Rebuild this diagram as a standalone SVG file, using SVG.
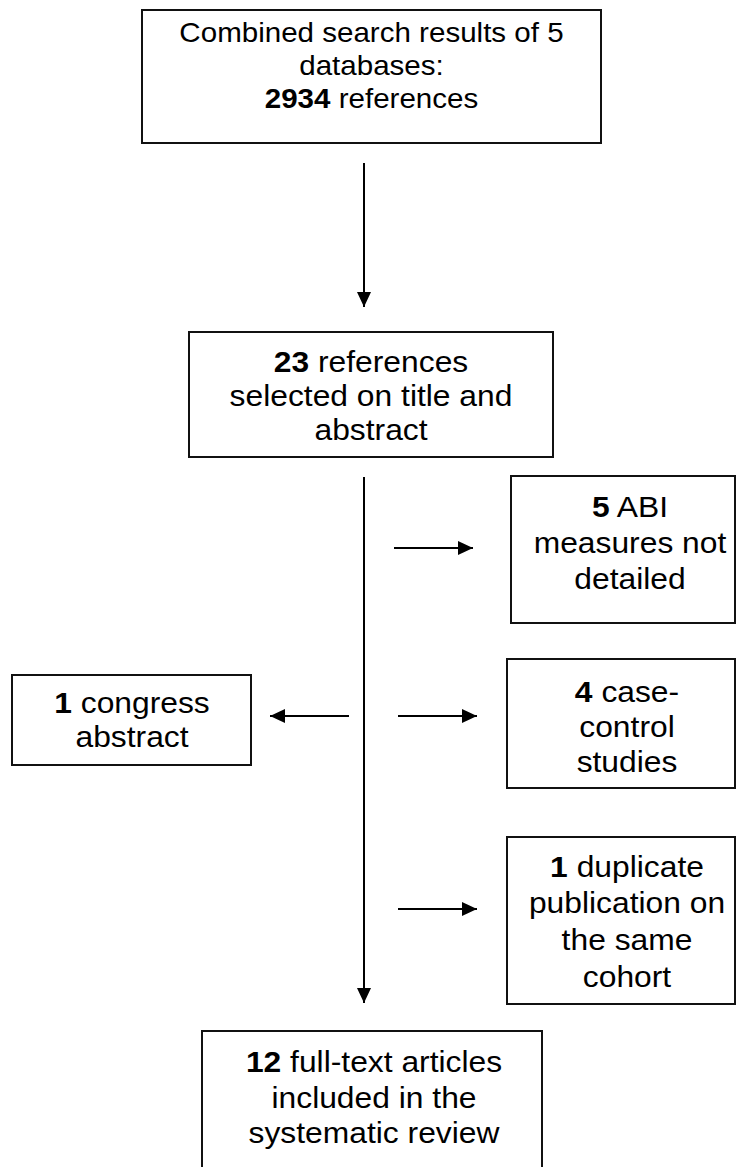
<svg xmlns="http://www.w3.org/2000/svg" width="738" height="1167" viewBox="0 0 738 1167">
<style>
  .box { fill: #fff; stroke: #111; stroke-width: 2; }
  .t { font-family: "Liberation Sans", Arial, sans-serif; font-size: 30px; fill: #000; text-anchor: middle; }
  .tt { font-size: 27.5px; }
  .b { font-weight: bold; }
  .arr { stroke: #000; stroke-width: 2; fill: none; marker-end: url(#ah); }
</style>
<defs>
  <marker id="ah" viewBox="0 0 15 14" markerWidth="15" markerHeight="14" refX="15" refY="7" orient="auto" markerUnits="userSpaceOnUse">
    <path d="M0,0 L15,7 L0,14 z" fill="#000"/>
  </marker>
</defs>
<rect width="738" height="1167" fill="#fff"/>

<g id="connectors">
  <line class="arr" x1="364" y1="163" x2="364" y2="307"/>
  <line class="arr" x1="364" y1="477" x2="364" y2="1003"/>
  <line class="arr" x1="394" y1="548" x2="473" y2="548"/>
  <line class="arr" x1="349" y1="716" x2="270" y2="716"/>
  <line class="arr" x1="398" y1="716" x2="477" y2="716"/>
  <line class="arr" x1="398" y1="909" x2="477" y2="909"/>
</g>

<g id="n-search">
  <rect class="box" x="142" y="10" width="459" height="133"/>
  <text class="t tt" transform="translate(371.5,42) scale(1.075,1)">Combined search results of 5</text>
  <text class="t tt" transform="translate(371.5,75) scale(1.075,1)">databases:</text>
  <text class="t tt" transform="translate(371.5,108) scale(1.075,1)"><tspan class="b">2934</tspan> references</text>
</g>

<g id="n-selected">
  <rect class="box" x="189" y="332" width="364" height="125"/>
  <text class="t" transform="translate(371,372) scale(1.06,1)"><tspan class="b">23</tspan> references</text>
  <text class="t" transform="translate(371,406) scale(1.06,1)">selected on title and</text>
  <text class="t" transform="translate(371,440) scale(1.06,1)">abstract</text>
</g>

<g id="n-abi">
  <rect class="box" x="511" y="476" width="224" height="147"/>
  <text class="t" transform="translate(630,517) scale(1.06,1)"><tspan class="b">5</tspan> ABI</text>
  <text class="t" transform="translate(630,553) scale(1.06,1)">measures not</text>
  <text class="t" transform="translate(630,589) scale(1.06,1)">detailed</text>
</g>

<g id="n-congress">
  <rect class="box" x="12" y="675" width="239" height="90"/>
  <text class="t" transform="translate(132,713) scale(1.06,1)"><tspan class="b">1</tspan> congress</text>
  <text class="t" transform="translate(132,747) scale(1.06,1)">abstract</text>
</g>

<g id="n-casecontrol">
  <rect class="box" x="507" y="659" width="228" height="129"/>
  <text class="t" transform="translate(627,702) scale(1.06,1)"><tspan class="b">4</tspan> case-</text>
  <text class="t" transform="translate(627,737) scale(1.06,1)">control</text>
  <text class="t" transform="translate(627,772) scale(1.06,1)">studies</text>
</g>

<g id="n-duplicate">
  <rect class="box" x="507" y="837" width="228" height="167"/>
  <text class="t" transform="translate(627,877) scale(1.06,1)"><tspan class="b">1</tspan> duplicate</text>
  <text class="t" transform="translate(627,913) scale(1.06,1)">publication on</text>
  <text class="t" transform="translate(627,950) scale(1.06,1)">the same</text>
  <text class="t" transform="translate(627,987) scale(1.06,1)">cohort</text>
</g>

<g id="n-included">
  <rect class="box" x="202" y="1031" width="340" height="150"/>
  <text class="t" transform="translate(374,1072) scale(1.06,1)"><tspan class="b">12</tspan> full-text articles</text>
  <text class="t" transform="translate(374,1108) scale(1.06,1)">included in the</text>
  <text class="t" transform="translate(374,1143) scale(1.06,1)">systematic review</text>
</g>
</svg>
